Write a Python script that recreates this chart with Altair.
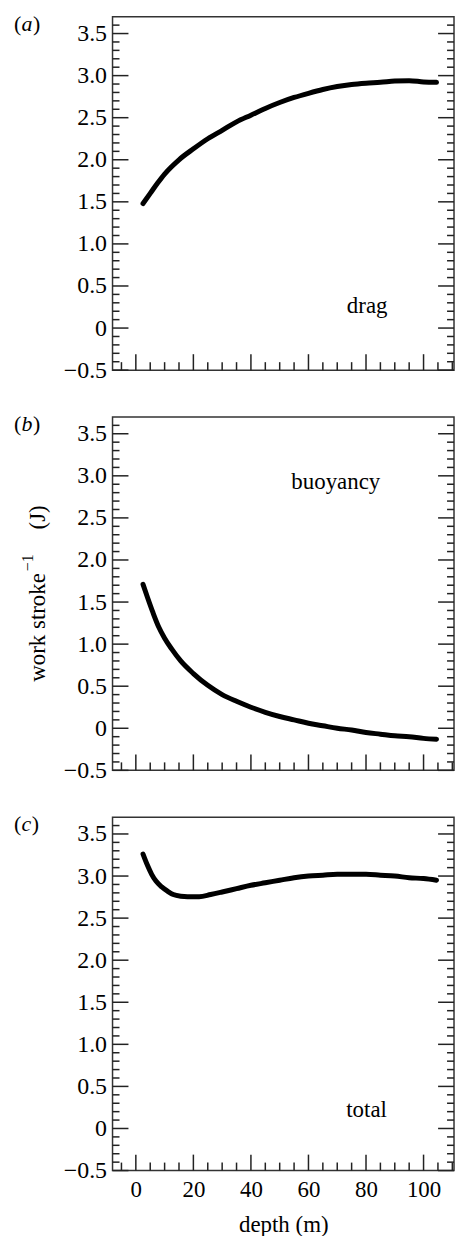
import altair as alt
import pandas as pd

# ---- data ----
drag_depth = [2.5, 5, 7.5, 10, 12.5, 15, 20, 25, 30, 35, 40, 45, 50, 55, 60, 65, 70, 75, 80, 85, 90, 95, 100, 104.5]
drag_work = [1.48, 1.60, 1.72, 1.83, 1.92, 2.00, 2.13, 2.25, 2.35, 2.45, 2.53, 2.61, 2.68, 2.74, 2.79, 2.835, 2.87, 2.895, 2.91, 2.92, 2.935, 2.94, 2.925, 2.92]

buoy_depth = [2.5, 4, 6, 8, 10, 12.5, 15.6, 20, 25, 30, 35, 40, 45, 50, 55, 60, 65, 70, 75, 80, 85, 90, 95, 100, 104.5]
buoy_work = [1.71, 1.56, 1.37, 1.20, 1.07, 0.94, 0.80, 0.65, 0.51, 0.40, 0.32, 0.25, 0.19, 0.14, 0.10, 0.06, 0.03, 0.00, -0.02, -0.05, -0.07, -0.09, -0.10, -0.12, -0.13]

total_depth = [2.5, 4, 5.5, 7, 9, 11, 13, 15.6, 18, 22, 26, 30, 35, 40, 45, 50, 55, 60, 65, 70, 75, 80, 85, 90, 95, 100, 104.5]
total_work = [3.26, 3.13, 3.02, 2.94, 2.87, 2.82, 2.78, 2.76, 2.755, 2.755, 2.78, 2.81, 2.85, 2.89, 2.92, 2.95, 2.98, 3.00, 3.01, 3.02, 3.02, 3.02, 3.01, 3.00, 2.98, 2.97, 2.95]

panel_letters = ["a", "b", "c"]
panel_names = ["drag", "buoyancy", "total"]
name_x = [80.4, 69.5, 80.2]
name_y = [0.175, 2.84, 0.14]

ytitle_main = "work stroke"
ytitle_sup = "\u22121"
ytitle_unit = "(J)"

x_major = [0, 20, 40, 60, 80, 100]
x_minor = [-5, 5, 10, 15, 25, 30, 35, 45, 50, 55, 65, 70, 75, 85, 90, 95, 105, 110]
y_major = [-0.5, 0.0, 0.5, 1.0, 1.5, 2.0, 2.5, 3.0, 3.5]
y_minor = [-0.4, -0.3, -0.2, -0.1, 0.1, 0.2, 0.3, 0.4, 0.6, 0.7, 0.8, 0.9,
           1.1, 1.2, 1.3, 1.4, 1.6, 1.7, 1.8, 1.9, 2.1, 2.2, 2.3, 2.4,
           2.6, 2.7, 2.8, 2.9, 3.1, 3.2, 3.3, 3.4, 3.6]

W, H = 343, 355
X_DOMAIN = [-8.1, -8.1 + W / 2.89]
Y_DOMAIN = [-0.5, 3.7]
FONT = "Liberation Serif"
FS = 23
INK = "#222222"
LETTER_W = {"a": 11.0, "b": 11.0, "c": 9.8}


def panel(depths, values, idx):
    xs = alt.Scale(domain=X_DOMAIN, nice=False, zero=False)
    ys = alt.Scale(domain=Y_DOMAIN, nice=False, zero=False)
    last = idx == 2
    if last:
        xaxis = alt.Axis(values=x_major, ticks=False, domain=False, grid=False,
                         labelPadding=8, labelFontSize=23, title="depth (m)", titlePadding=12,
                         labelFlush=False, labelOverlap=False)
    else:
        xaxis = None
    yaxis = alt.Axis(values=y_major, ticks=False, domain=False, grid=False,
                     labelPadding=6, labelFontSize=24, labelOverlap=False, labelFlush=False,
                     labelExpr="datum.value == 0 ? '0' : replace(format(datum.value, '.1f'), '-', '\u2212')",
                     title=None)
    df = pd.DataFrame({"depth": depths, "work": values})
    line = alt.Chart(df).mark_line(color="black", strokeWidth=5, strokeCap="round",
                                   strokeJoin="round", interpolate="monotone").encode(
        x=alt.X("depth:Q", scale=xs, axis=xaxis),
        y=alt.Y("work:Q", scale=ys, axis=yaxis),
    )

    def xticks(vals, length):
        return alt.Chart(pd.DataFrame({"depth": vals})).mark_rule(color=INK, strokeWidth=1.5).encode(
            x=alt.X("depth:Q", scale=xs, axis=xaxis), y=alt.value(H), y2=alt.value(H - length))

    def yticks(vals, x0, length):
        return alt.Chart(pd.DataFrame({"work": vals})).mark_rule(color=INK, strokeWidth=1.5).encode(
            y=alt.Y("work:Q", scale=ys, axis=yaxis), x=alt.value(x0), x2=alt.value(x0 + length))

    layers = [line,
              xticks(x_major, 16), xticks(x_minor, 8),
              yticks(y_major, 0, 16), yticks(y_minor, 0, 7),
              yticks(y_major, W, -16), yticks(y_minor, W, -7)]

    name = alt.Chart(pd.DataFrame({"depth": [name_x[idx]], "work": [name_y[idx]], "t": [panel_names[idx]]})).mark_text(
        font=FONT, fontSize=FS, color="black", align="center", baseline="alphabetic").encode(
        x=alt.X("depth:Q", scale=xs, axis=xaxis), y=alt.Y("work:Q", scale=ys, axis=yaxis), text="t:N")
    layers.append(name)

    letter = panel_letters[idx]
    lw = LETTER_W[letter]
    base = dict(font=FONT, fontSize=22, color="black", align="left", baseline="alphabetic")
    tag = pd.DataFrame({"t": [letter]})
    layers.append(alt.Chart(tag).mark_text(text="(", **base).encode(x=alt.value(-99), y=alt.value(14)))
    layers.append(alt.Chart(tag).mark_text(fontStyle="italic", **base).encode(
        x=alt.value(-91.5), y=alt.value(14), text="t:N"))
    layers.append(alt.Chart(tag).mark_text(text=")", **base).encode(x=alt.value(-91.5 + lw + 0.5), y=alt.value(14)))

    if idx == 1:
        rot = dict(font=FONT, color="black", align="left", baseline="alphabetic", angle=270)
        t = pd.DataFrame({"a": [ytitle_main], "b": [ytitle_sup], "c": [ytitle_unit]})
        layers.append(alt.Chart(t).mark_text(fontSize=23, **rot).encode(
            x=alt.value(-68), y=alt.value(266), text="a:N"))
        layers.append(alt.Chart(t).mark_text(fontSize=16, **rot).encode(
            x=alt.value(-80), y=alt.value(155), text="b:N"))
        layers.append(alt.Chart(t).mark_text(fontSize=23, **rot).encode(
            x=alt.value(-68), y=alt.value(113), text="c:N"))

    return alt.layer(*layers).properties(width=W, height=H)


charts = [panel(drag_depth, drag_work, 0), panel(buoy_depth, buoy_work, 1), panel(total_depth, total_work, 2)]

chart = alt.vconcat(*charts, spacing=47, bounds="flush").properties(
    padding={"left": 5, "top": 1, "right": 0, "bottom": 0}
).configure_view(stroke="#333333", strokeWidth=1.5).configure_axis(
    labelFont=FONT, labelColor="black",
    titleFont=FONT, titleFontSize=FS, titleColor="black", titleFontWeight="normal",
)

chart.save("out.html", embed_options={"renderer": "svg", "actions": False})
